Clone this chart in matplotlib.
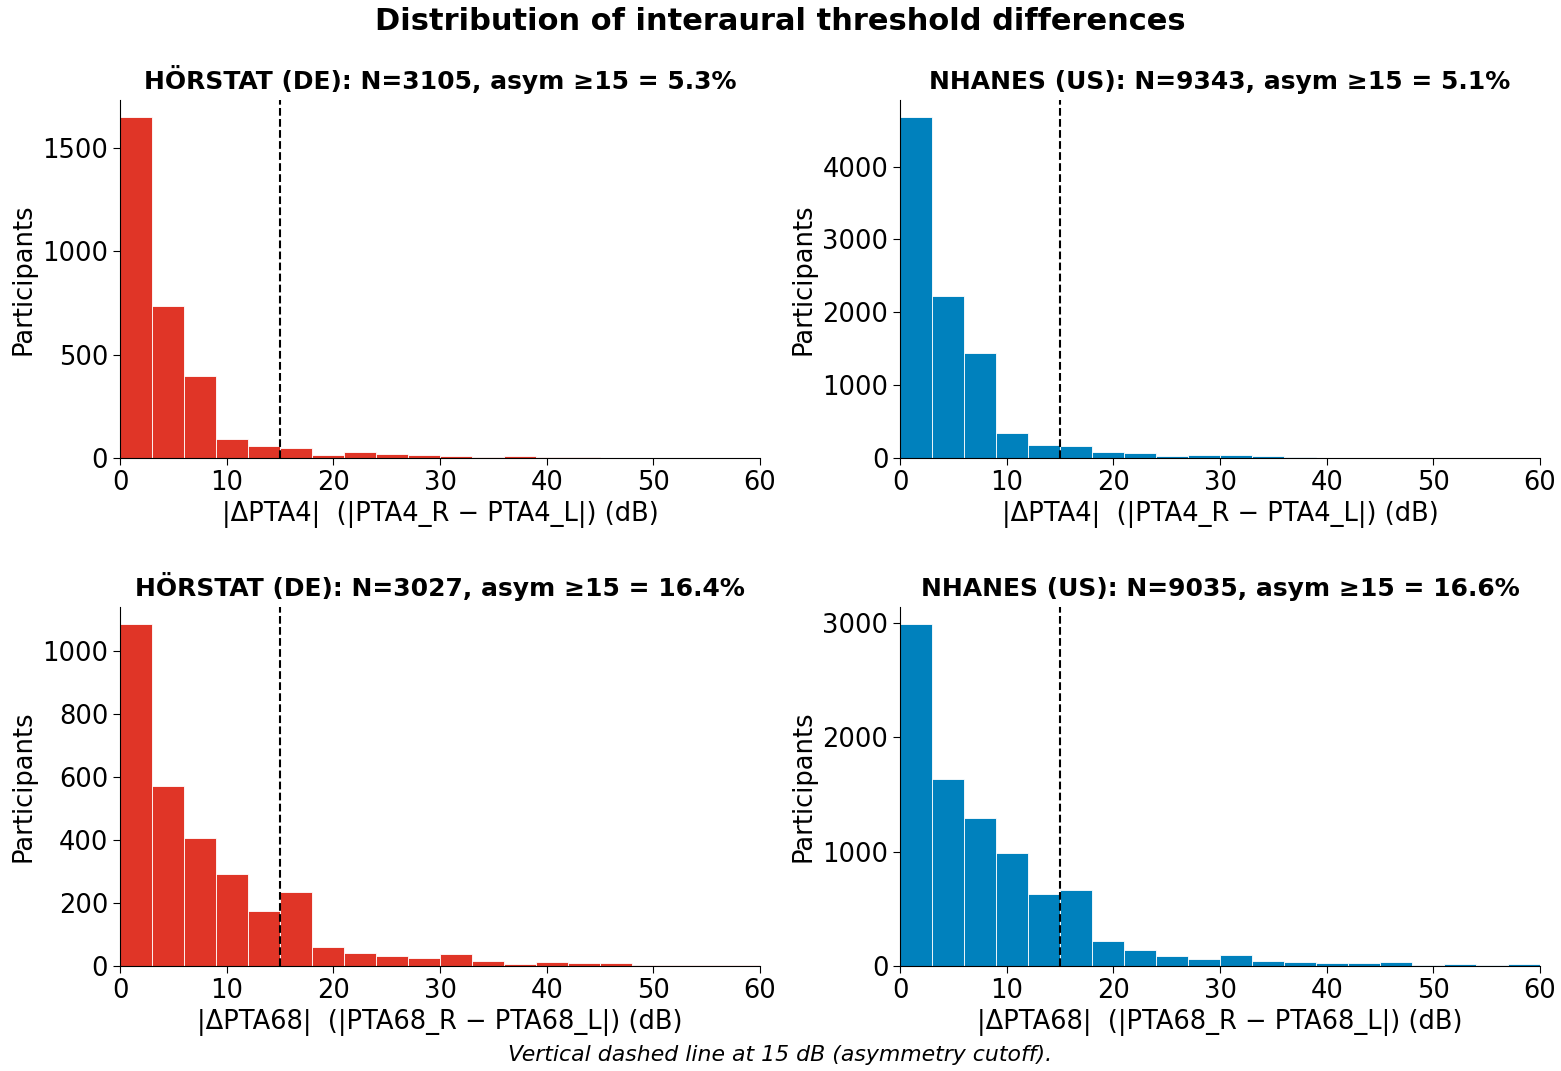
import numpy as np
import matplotlib
matplotlib.use('Agg')
import matplotlib.pyplot as plt
from matplotlib.ticker import MultipleLocator

# bin edges: 3 dB bins from 0 to 60
bin_edges = np.arange(0, 63, 3)

# counts per bin
de_pta4 = [1650, 736, 399, 91, 59, 48, 16, 28, 20, 15, 11, 6, 10, 4, 3, 2, 1, 1, 0, 0]
us_pta4 = [4681, 2219, 1438, 347, 182, 160, 85, 62, 30, 40, 42, 28, 12, 6, 4, 3, 2, 1, 1, 0]
de_pta68 = [1086, 571, 406, 293, 175, 234, 60, 41, 32, 25, 38, 17, 6, 13, 9, 9, 3, 3, 2, 2]
us_pta68 = [2991, 1632, 1298, 991, 629, 667, 216, 137, 88, 64, 96, 41, 35, 23, 23, 38, 8, 18, 5, 15]

titles = [
    'HÖRSTAT (DE): N=3105, asym ≥15 = 5.3%',
    'NHANES (US): N=9343, asym ≥15 = 5.1%',
    'HÖRSTAT (DE): N=3027, asym ≥15 = 16.4%',
    'NHANES (US): N=9035, asym ≥15 = 16.6%',
]
xlabels = [
    '|ΔPTA4|  (|PTA4_R − PTA4_L|) (dB)',
    '|ΔPTA4|  (|PTA4_R − PTA4_L|) (dB)',
    '|ΔPTA68|  (|PTA68_R − PTA68_L|) (dB)',
    '|ΔPTA68|  (|PTA68_R − PTA68_L|) (dB)',
]
counts = [de_pta4, us_pta4, de_pta68, us_pta68]
ytick_steps = [500, 1000, 200, 1000]
cutoff = 15

red = '#e03527'
blue = '#0081bd'
colours = [red, blue, red, blue]

fig = plt.figure(figsize=(15.61, 10.71), dpi=100)

positions = [
    [0.0769, 0.5724, 0.41, 0.3343],
    [0.5766, 0.5724, 0.41, 0.3343],
    [0.0769, 0.0980, 0.41, 0.3352],
    [0.5766, 0.0980, 0.41, 0.3352],
]

for pos, c, col, title, xl, step in zip(positions, counts, colours, titles, xlabels, ytick_steps):
    ax = fig.add_axes(pos)
    ax.bar(bin_edges[:-1], c, width=3, align='edge', color=col,
           edgecolor='white', linewidth=0.6)
    ax.axvline(cutoff, color='black', linestyle='--', linewidth=1.5)
    ax.set_xlim(0, 60)
    ax.yaxis.set_major_locator(MultipleLocator(step))
    ax.set_title(title, fontsize=18, fontweight='bold', pad=8)
    ax.set_xlabel(xl, fontsize=18.5, labelpad=4)
    ax.set_ylabel('Participants', fontsize=18.5)
    ax.tick_params(labelsize=18.5, length=5)
    ax.spines['top'].set_visible(False)
    ax.spines['right'].set_visible(False)

fig.suptitle('Distribution of interaural threshold differences', fontsize=22,
             fontweight='bold', y=0.993)
fig.text(0.5, 0.009, 'Vertical dashed line at 15 dB (asymmetry cutoff).',
         ha='center', fontsize=15.8, style='italic')

plt.savefig('out.png', dpi=100)
